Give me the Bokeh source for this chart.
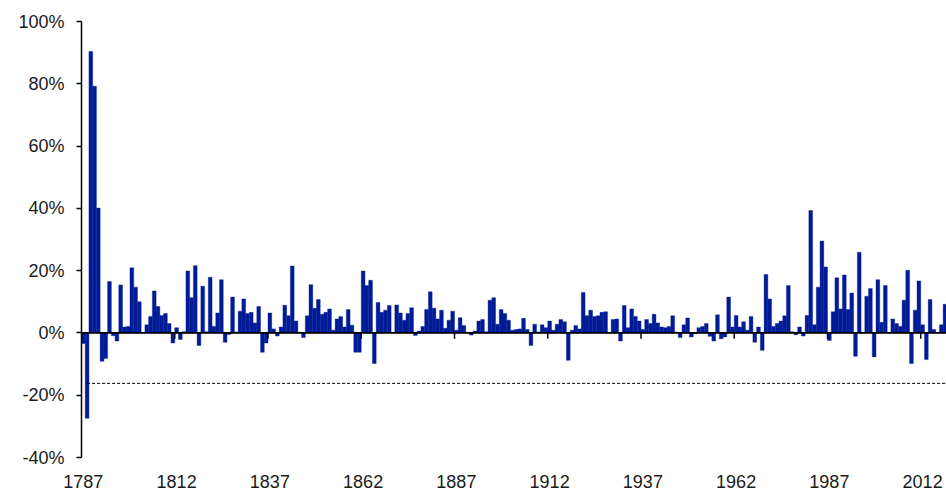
from bokeh.plotting import figure
from bokeh.models import FixedTicker, Span
from bokeh.embed import file_html
from bokeh.resources import INLINE

# ---- data (annual change, %) ----
years = list(range(1787, 2019))
values = [
    -3.4, -27.4, 90.4, 79.2, 40.1, -9.1, -8.2, 16.5, -0.9, -2.6,      # 1787-1796
    15.4, 1.9, 2.1, 20.9, 14.7, 10.0, 0.0, 2.6, 5.3, 13.5,            # 1797-1806
    8.5, 5.6, 6.2, 3.0, -3.2, 1.7, -2.1, 0.4, 19.9, 11.3,             # 1807-1816
    21.6, -4.0, 15.0, 0.4, 17.9, 2.1, 6.4, 17.1, -3.0, -0.5,          # 1817-1826
    11.5, 0.3, 7.0, 10.9, 6.2, 6.6, 3.2, 8.5, -6.2, -3.2,             # 1827-1836
    6.4, 1.3, -1.0, 1.9, 8.9, 5.5, 21.5, 3.8, 0.2, -1.5,              # 1837-1846
    5.5, 15.5, 7.9, 10.7, 6.0, 6.6, 7.7, 0.9, 4.5, 5.3,               # 1847-1856
    1.9, 7.5, 2.5, -6.2, -6.2, 19.9, 15.2, 16.9, -9.8, 9.8,           # 1857-1866
    6.6, 7.3, 8.8, 0.2, 9.0, 6.4, 4.1, 6.2, 8.1, -0.8,                # 1867-1876
    0.6, 2.1, 7.5, 13.2, 7.9, 4.5, 7.3, 1.5, 4.1, 7.0,                # 1877-1886
    0.9, 4.9, 2.4, 0.2, -0.7, 0.6, 3.8, 4.3, 0.4, 10.5,               # 1887-1896
    11.3, 2.8, 7.5, 6.2, 4.1, 0.9, 1.1, 1.3, 4.7, 1.1,                # 1897-1906
    -4.0, 2.8, 0.3, 2.6, 1.7, 3.8, 0.9, 2.8, 4.3, 3.6,                # 1907-1916
    -8.8, 0.9, 2.4, 1.3, 13.0, 5.5, 7.3, 5.3, 5.5, 6.6,               # 1917-1926
    6.8, 0.0, 4.3, 4.5, -2.6, 8.8, 1.7, 7.7, 5.3, 3.8,                # 1927-1936
    1.1, 4.3, 3.0, 6.0, 3.2, 1.9, 1.7, 2.1, 5.5, 0.3,                 # 1937-1946
    -1.5, 2.6, 4.8, -1.3, -0.3, 1.7, 2.1, 3.0, -1.1, -2.6,            # 1947-1956
    5.8, -1.9, -1.3, 11.5, 1.9, 5.6, 1.9, 3.6, 0.9, 5.3,              # 1957-1966
    -3.0, 1.9, -5.6, 18.8, 10.9, 2.1, 3.0, 3.8, 5.5, 15.2,            # 1967-1976
    0.4, -0.6, 1.9, -1.0, 5.6, 39.3, 2.6, 14.7, 29.5, 21.2,           # 1977-1986
    -2.4, 6.8, 17.7, 7.7, 18.6, 7.5, 12.8, -7.5, 25.9, 0.0,           # 1987-1996
    11.8, 14.3, -7.7, 17.1, 3.4, 15.2, 0.0, 4.5, 3.0, 2.1,            # 1997-2006
    10.5, 20.1, -9.8, 7.3, 16.7, 2.6, -8.5, 10.7, 1.1, 0.0,           # 2007-2016
    2.6, 9.2,                                                         # 2017-2018
]
threshold = -16.2
x_tick_years = [1787, 1812, 1837, 1862, 1887, 1912, 1937, 1962, 1987, 2012]
y_tick_values = [-40, -20, 0, 20, 40, 60, 80, 100]
y_tick_labels = {v: f"{v}%" for v in y_tick_values}

BAR = "#001b96"
FONT = "Liberation Sans"

x_start, x_end = years[0] - 0.5, 2018.4

p = figure(width=946, height=490, x_range=(x_start, x_end), y_range=(-40, 100),
           output_backend="svg", toolbar_location=None,
           min_border_left=81, min_border_right=0, min_border_top=21, min_border_bottom=32)
p.outline_line_color = None
p.xgrid.grid_line_color = None
p.ygrid.grid_line_color = None

p.vbar(x=years, top=values, bottom=0, width=1.0,
       fill_color=BAR, line_color=BAR, line_width=0.4)

# zero line with small category ticks
p.add_layout(Span(location=0, dimension="width", line_color="black", line_width=1.8))
tx = [y - 0.5 for y in x_tick_years]
p.segment(x0=tx, y0=[0] * len(tx), x1=tx, y1=[-1.9] * len(tx),
          line_color="black", line_width=1.5)

# dashed threshold line
p.segment(x0=[years[1]], y0=[threshold], x1=[x_end], y1=[threshold],
          line_color="black", line_width=1, line_dash="3 2")

# y axis
ya = p.yaxis[0]
ya.ticker = FixedTicker(ticks=y_tick_values)
ya.major_label_overrides = y_tick_labels
ya.axis_line_color = "black"
ya.axis_line_width = 1.5
ya.major_tick_line_color = "black"
ya.major_tick_line_width = 1.5
ya.major_tick_out = 5
ya.major_tick_in = 0
ya.minor_tick_line_color = None
ya.major_label_standoff = 12
ya.major_label_text_font = FONT
ya.major_label_text_font_size = "18px"
ya.major_label_text_color = "#1a1a1a"

# x axis (labels only)
xa = p.xaxis[0]
xa.ticker = FixedTicker(ticks=x_tick_years)
xa.axis_line_color = None
xa.major_tick_line_color = None
xa.minor_tick_line_color = None
xa.major_tick_out = 0
xa.major_tick_in = 0
xa.major_label_standoff = 17
xa.major_label_text_line_height = 0.6
xa.major_label_text_font = FONT
xa.major_label_text_font_size = "18px"
xa.major_label_text_color = "#1a1a1a"

open("out.html", "w").write(file_html(p, INLINE))
